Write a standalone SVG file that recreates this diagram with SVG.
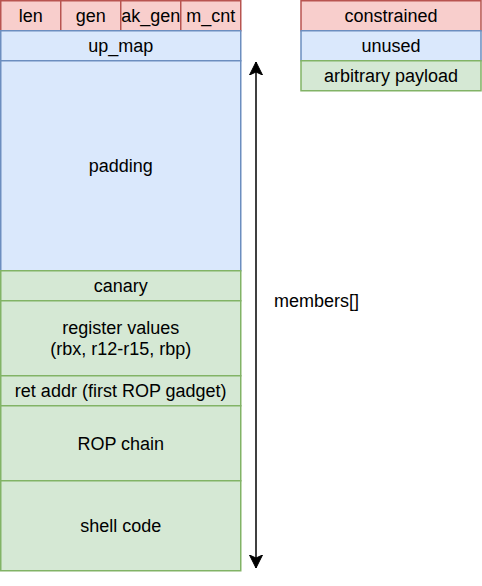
<svg xmlns="http://www.w3.org/2000/svg" width="482" height="586" viewBox="0 0 482 586">
  <style>
    .red { fill: #f8cecc; stroke: #b85450; stroke-width: 1.5; }
    .blue { fill: #dae8fc; stroke: #6c8ebf; stroke-width: 1.5; }
    .green { fill: #d5e8d4; stroke: #82b366; stroke-width: 1.5; }
    text { font-family: "Liberation Sans", Arial, Helvetica, sans-serif; font-size: 18px; fill: #000000; text-anchor: middle; }
    .conn { stroke: #000000; stroke-width: 1.5; fill: none; }
  </style>
  <defs>
    <marker id="arrowEnd" markerUnits="userSpaceOnUse" viewBox="0 0 14 14" refX="13" refY="7" markerWidth="14" markerHeight="14" orient="auto">
      <path d="M13,7 L0,0.5 L3,7 L0,13.5 Z" fill="#000000" stroke="#000000" stroke-width="1"/>
    </marker>
    <marker id="arrowStart" markerUnits="userSpaceOnUse" viewBox="0 0 14 14" refX="1" refY="7" markerWidth="14" markerHeight="14" orient="auto">
      <path d="M1,7 L14,0.5 L11,7 L14,13.5 Z" fill="#000000" stroke="#000000" stroke-width="1"/>
    </marker>
  </defs>

  <g id="node-len"><rect class="red" x="0.75" y="0.75" width="60" height="30"/><text x="30.75" y="22">len</text></g>
  <g id="node-gen"><rect class="red" x="60.75" y="0.75" width="60" height="30"/><text x="90.75" y="22">gen</text></g>
  <g id="node-ak_gen"><rect class="red" x="120.75" y="0.75" width="60" height="30"/><text x="150.75" y="22">ak_gen</text></g>
  <g id="node-m_cnt"><rect class="red" x="180.75" y="0.75" width="60" height="30"/><text x="210.75" y="22">m_cnt</text></g>

  <g id="node-up_map"><rect class="blue" x="0.75" y="30.75" width="240" height="30"/><text x="120.75" y="52">up_map</text></g>
  <g id="node-padding"><rect class="blue" x="0.75" y="60.75" width="240" height="210"/><text x="120.75" y="172">padding</text></g>
  <g id="node-canary"><rect class="green" x="0.75" y="270.75" width="240" height="30"/><text x="120.75" y="292">canary</text></g>
  <g id="node-registers"><rect class="green" x="0.75" y="300.75" width="240" height="75"/><text x="120.75" y="333.5">register values</text><text x="120.75" y="355">(rbx, r12-r15, rbp)</text></g>
  <g id="node-retaddr"><rect class="green" x="0.75" y="375.75" width="240" height="30"/><text x="120.75" y="397">ret addr (first ROP gadget)</text></g>
  <g id="node-rop"><rect class="green" x="0.75" y="405.75" width="240" height="75"/><text x="120.75" y="449.5">ROP chain</text></g>
  <g id="node-shellcode"><rect class="green" x="0.75" y="480.75" width="240" height="90"/><text x="120.75" y="532">shell code</text></g>

  <g id="legend-constrained"><rect class="red" x="301" y="0.75" width="180" height="30"/><text x="391" y="22">constrained</text></g>
  <g id="legend-unused"><rect class="blue" x="301" y="30.75" width="180" height="30"/><text x="391" y="52">unused</text></g>
  <g id="legend-arbitrary"><rect class="green" x="301" y="60.75" width="180" height="30"/><text x="391" y="82">arbitrary payload</text></g>

  <g id="connectors">
    <line class="conn" x1="256" y1="62" x2="256" y2="568" marker-start="url(#arrowStart)" marker-end="url(#arrowEnd)"/>
  </g>

  <g id="label-members"><text x="274" y="307" style="text-anchor: start;">members[]</text></g>
</svg>
